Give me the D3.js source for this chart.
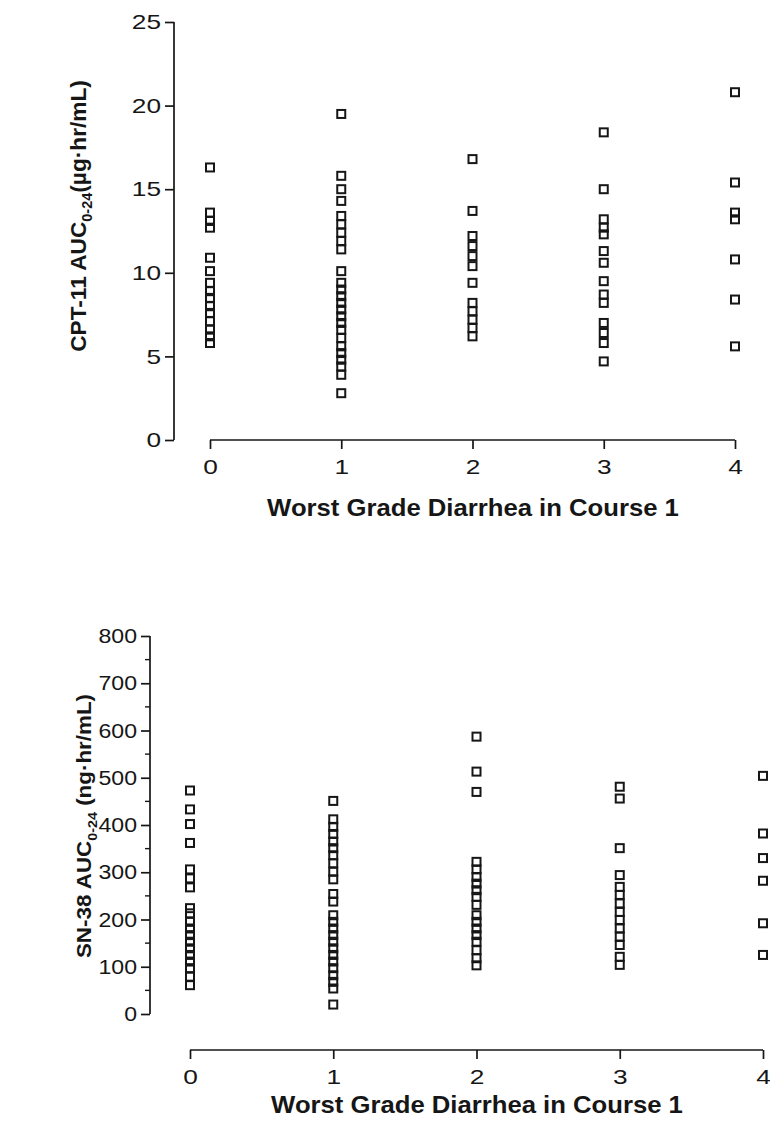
<!DOCTYPE html>
<html><head><meta charset="utf-8">
<script src="https://cdn.jsdelivr.net/npm/d3@7"></script>
<style>body{margin:0;background:#fff}svg{display:block}</style>
</head><body>
<script>
const categories = [0, 1, 2, 3, 4];
const xTickLabels = ["0", "1", "2", "3", "4"];
const cptTicks = [0, 5, 10, 15, 20, 25];
const snTicks = [0, 100, 200, 300, 400, 500, 600, 700, 800];
const snMinorTicks = [50, 150, 250, 350, 450, 550, 650, 750];

const cpt0 = [16.3, 13.6, 13.1, 12.7, 10.9, 10.1, 9.4, 8.9, 8.5, 8.0, 7.6, 7.1, 6.6, 6.2, 5.8];
const cpt1 = [19.5, 15.8, 15.0, 14.3, 13.4, 12.9, 12.4, 11.9, 11.4, 10.1, 9.4, 9.0, 8.6, 8.2, 7.8, 7.4, 7.0, 6.6, 6.1, 5.6, 5.2, 4.8, 4.4, 3.9, 2.8];
const cpt2 = [16.8, 13.7, 12.2, 11.6, 11.0, 10.4, 9.4, 8.2, 7.7, 7.2, 6.7, 6.2];
const cpt3 = [18.4, 15.0, 13.2, 12.7, 12.3, 11.3, 10.6, 9.5, 8.7, 8.2, 7.0, 6.4, 5.8, 4.7];
const cpt4 = [20.8, 15.4, 13.6, 13.2, 10.8, 8.4, 5.6];

const sn0 = [473, 433, 402, 362, 306, 287, 268, 224, 213, 195, 181, 167, 153, 139, 125, 111, 97, 79, 61];
const sn1 = [451, 412, 396, 381, 365, 351, 336, 319, 301, 285, 254, 238, 209, 195, 181, 167, 153, 139, 125, 111, 97, 82, 68, 54, 20];
const sn2 = [587, 513, 470, 322, 306, 290, 276, 262, 248, 231, 209, 195, 181, 167, 153, 135, 118, 103];
const sn3 = [481, 456, 351, 294, 269, 252, 234, 216, 199, 181, 164, 146, 121, 104];
const sn4 = [504, 382, 330, 282, 192, 125];

const cptSeries = [cpt0, cpt1, cpt2, cpt3, cpt4];
const snSeries = [sn0, sn1, sn2, sn3, sn4];

const W = 770, H = 1130;
const svg = d3.select("body").append("svg").attr("width", W).attr("height", H);
const font = "'Liberation Sans', Arial, Helvetica, sans-serif";
const ink = "#161616";

function panel(cfg) {
  const g = svg.append("g");
  const x = d3.scaleLinear().domain([0, 4]).range([cfg.x0, cfg.x1]);
  const y = d3.scaleLinear().domain([0, cfg.ymax]).range([cfg.y0, cfg.y1]);

  // y axis
  const ya = g.append("g").attr("transform", `translate(${cfg.yAxisX},0)`)
    .call(d3.axisLeft(y).tickValues(cfg.ticks).tickSize(9).tickPadding(4).tickFormat(d3.format("d")));
  ya.select(".domain").attr("d", `M0,${y(0)}V${y(cfg.ymax)}`);
  if (cfg.minor) {
    ya.selectAll(".minor").data(cfg.minor).enter().append("line").attr("class", "minor")
      .attr("x1", 0).attr("x2", -5).attr("y1", d => y(d)).attr("y2", d => y(d))
      .attr("stroke", ink).attr("stroke-width", 1.4);
  }
  // x axis
  const xa = g.append("g").attr("transform", `translate(0,${cfg.xAxisY})`)
    .call(d3.axisBottom(x).tickValues(categories).tickSize(9).tickPadding(10).tickFormat((d, i) => xTickLabels[i]));
  xa.select(".domain").attr("d", `M${x(0)},0H${x(4)}`);

  [ya, xa].forEach(a => {
    a.selectAll(".domain, .tick line").attr("stroke", ink).attr("stroke-width", 1.7);
  });
  ya.selectAll(".tick text").attr("font-family", font).attr("font-size", 21).attr("fill", ink)
    .attr("transform", function () {
      const tx = +this.getAttribute("x") || 0;
      return `translate(${tx},0) scale(${cfg.yTickScale},1)`;
    }).attr("x", 0);
  xa.selectAll(".tick text").attr("font-family", font).attr("font-size", 21).attr("fill", ink)
    .attr("transform", "scale(1.25,1)");

  // points
  const pts = [];
  cfg.series.forEach((arr, i) => arr.forEach(v => pts.push({c: categories[i], v})));
  const s = 8;
  g.append("g").selectAll("rect").data(pts).enter().append("rect")
    .attr("x", d => x(d.c) - s / 2).attr("y", d => y(d.v) - s / 2)
    .attr("width", s).attr("height", s)
    .attr("fill", "none").attr("stroke", ink).attr("stroke-width", 2);

  // x label
  g.append("text").attr("transform", `translate(${cfg.xLabelX},${cfg.xLabelY}) scale(1.07,1)`)
    .attr("text-anchor", "middle")
    .attr("font-family", font).attr("font-weight", "bold").attr("font-size", 24).attr("fill", ink)
    .text("Worst Grade Diarrhea in Course 1");

  // y label
  const t = g.append("text")
    .attr("transform", `translate(${cfg.yLabelX},${cfg.yLabelY}) rotate(-90) scale(${cfg.yLabelScale},1)`)
    .attr("text-anchor", "middle").attr("font-family", font).attr("font-weight", "bold")
    .attr("font-size", cfg.yLabelSize).attr("fill", ink);
  t.append("tspan").text(cfg.yLabel[0]);
  t.append("tspan").attr("dy", 6).attr("font-size", cfg.yLabelSize * 0.64).text("0-24");
  t.append("tspan").attr("dy", -6).text(cfg.yLabel[1]);
}

panel({
  x0: 210, x1: 735, y0: 440, y1: 22, ymax: 25, ticks: cptTicks, yTickScale: 1.25,
  yAxisX: 174, xAxisY: 440, series: cptSeries,
  xLabelX: 473, xLabelY: 516, yLabelX: 86, yLabelY: 216, yLabelScale: 1.03, yLabelSize: 22,
  yLabel: ["CPT-11 AUC", "(\u00b5g\u00b7hr/mL)"]
});

panel({
  x0: 190, x1: 763, y0: 1014, y1: 636, ymax: 800, ticks: snTicks, yTickScale: 1.1,
  minor: snMinorTicks,
  yAxisX: 150, xAxisY: 1050, series: snSeries,
  xLabelX: 477, xLabelY: 1113, yLabelX: 91, yLabelY: 826, yLabelScale: 1.12, yLabelSize: 20,
  yLabel: ["SN-38 AUC", " (ng\u00b7hr/mL)"]
});
</script>
</body></html>
